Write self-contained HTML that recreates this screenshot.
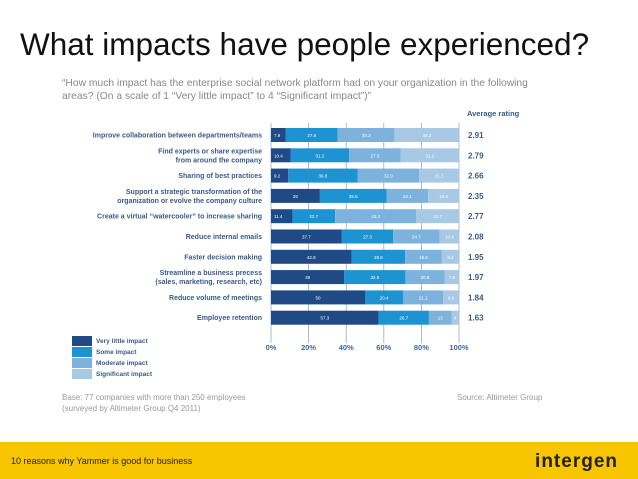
<!DOCTYPE html>
<html><head><meta charset="utf-8"><style>
body{margin:0;width:638px;height:479px;overflow:hidden;background:#fff;font-family:"Liberation Sans",sans-serif;position:relative}
#title{position:absolute;left:20px;top:26px;font-size:31.5px;color:#111;white-space:nowrap}
#q{position:absolute;left:62px;top:77px;font-size:10.3px;color:#888;line-height:13px;width:485px}
#footer{position:absolute;left:0;top:442px;width:638px;height:37px;background:#f7c600}
#ftext{position:absolute;left:11px;top:14px;font-size:9px;color:#222}
#logo{position:absolute;right:20px;top:9px;font-size:19px;font-weight:bold;color:#222;letter-spacing:1px}
</style></head><body>
<div id="title">What impacts have people experienced?</div>
<div id="q">“How much impact has the enterprise social network platform had on your organization in the following areas? (On a scale of 1 “Very little impact” to 4 “Significant impact”)”</div>
<svg id="chart" width="638" height="440" style="position:absolute;left:0;top:0"></svg>
<div id="footer">
<div id="ftext">10 reasons why Yammer is good for business</div>
<div id="logo">intergen</div>
</div>
<script>
const categories=[["Improve collaboration between departments/teams"],["Find experts or share expertise","from around the company"],["Sharing of best practices"],["Support a strategic transformation of the","organization or evolve the company culture"],["Create a virtual “watercooler” to increase sharing"],["Reduce internal emails"],["Faster decision making"],["Streamline a business precess","(sales, marketing, research, etc)"],["Reduce volume of meetings"],["Employee retention"]];
const veryLittle=[7.9,10.4,9.2,26,11.4,37.7,42.8,39,50,57.3];
const someImpact=[27.6,31.2,36.8,35.5,22.7,27.3,28.6,32.5,20.4,26.7];
const moderate=[30.3,27.3,32.9,22.1,43.2,24.7,19.5,20.8,21.1,12];
const significant=[34.2,31.2,21.1,16.5,22.7,10.4,9.1,7.8,8.6,4];
const avgRating=["2.91","2.79","2.66","2.35","2.77","2.08","1.95","1.97","1.84","1.63"];
const ticks=[0,20,40,60,80,100];
const seriesNames=["Very little impact","Some impact","Moderate impact","Significant impact"];
const colors=["#1f4a85","#1e93d2","#7db2dd","#a8c9e5"];
const NS="http://www.w3.org/2000/svg";
const svg=document.getElementById('chart');
const x0=271,x1=459;
const xs=v=>x0+(x1-x0)*v/100;
const yc=i=>135+i*20.3;
function mk(t,a){const e=document.createElementNS(NS,t);for(const k in a)e.setAttribute(k,a[k]);svg.appendChild(e);return e;}
ticks.forEach(t=>{
 const l=mk('line',{x1:xs(t),x2:xs(t),y1:123,y2:343,stroke:'#9ab',"stroke-width":0.8});
 
 
 const tx=mk('text',{x:xs(t),y:350,"font-size":7.5,"font-weight":"bold",fill:'#3a6aa8',"text-anchor":"middle"});
 tx.textContent=t+'%';
 
 
});
const series=[veryLittle,someImpact,moderate,significant];
const ah=mk('text',{x:467,y:116,"font-size":7.5,"font-weight":"bold",fill:'#3a5a88'});ah.textContent='Average rating';


categories.forEach((c,i)=>{
 let acc=0;const y=yc(i);
 series.forEach((s,k)=>{
  const r=mk('rect',{x:xs(acc),y:y-7,width:xs(acc+s[i])-xs(acc),height:14,fill:colors[k]});
  
  
  const t=mk('text',{x:k==0&&s[i]<15?xs(acc)+3:(xs(acc)+xs(acc+s[i]))/2,y:y+2,"font-size":4.5,fill:'#fff',"text-anchor":k==0&&s[i]<15?"start":"middle"});
  t.textContent=s[i];
  
  
  acc+=s[i];
 });
 c.forEach((line,j)=>{
  const t=mk('text',{x:262,y:y+2.5+(j-(c.length-1)/2)*9,"font-size":7,"font-weight":"bold",fill:'#3a5a88',"text-anchor":"end"});
  t.textContent=line;
  
  
 });
 const a=mk('text',{x:468,y:y+3,"font-size":8,"font-weight":"bold",fill:'#3a5a88'});
 a.textContent=avgRating[i];
 
 
});
seriesNames.forEach((n,k)=>{
 const r=mk('rect',{x:72,y:336+k*11,width:20,height:10,fill:colors[k]});
 
 
 const t=mk('text',{x:96,y:343+k*11,"font-size":6.5,"font-weight":"bold",fill:'#3a5a88'});
 t.textContent=n;
 
 
});
[["Base: 77 companies with more than 250 employees",62,400],["(surveyed by Altimeter Group Q4 2011)",62,411],["Source: Altimeter Group",457,400]].forEach(([s,x,y])=>{
 const t=mk('text',{x:x,y:y,"font-size":8,fill:'#999'});t.textContent=s;
 
 
});
</script>
</body></html>
